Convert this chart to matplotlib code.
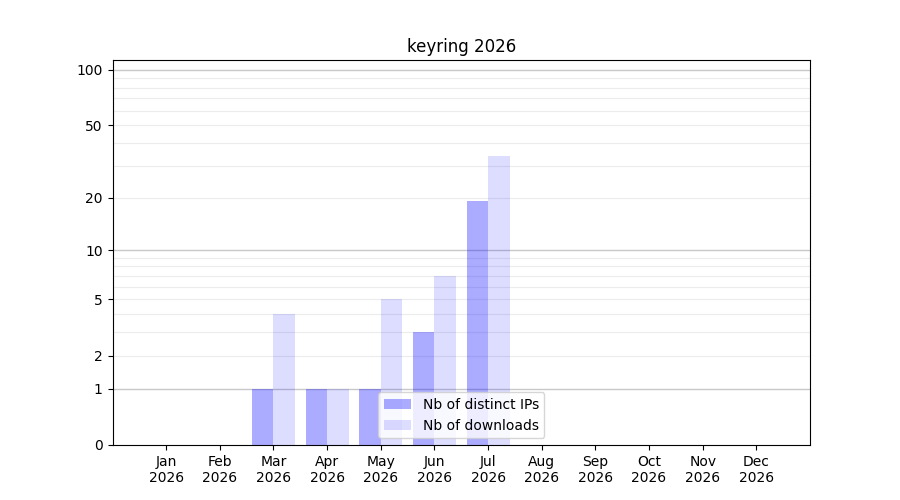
import numpy as np
import matplotlib
matplotlib.use('Agg')
import matplotlib.pyplot as plt
from matplotlib.ticker import FixedLocator, NullFormatter

# data
months = ['Jan', 'Feb', 'Mar', 'Apr', 'May', 'Jun',
          'Jul', 'Aug', 'Sep', 'Oct', 'Nov', 'Dec']
year = 2026
distinct_ips = [0, 0, 1, 1, 1, 3, 19, 0, 0, 0, 0, 0]
downloads = [0, 0, 4, 1, 5, 7, 34, 0, 0, 0, 0, 0]

y_ticks = [0, 1, 2, 5, 10, 20, 50, 100]
major_grid = [1, 10, 100]
minor_grid = [2, 3, 4, 5, 6, 7, 8, 9, 20, 30, 40, 50, 60, 70, 80, 90]


def fwd(v):
    return np.log10(1 + np.clip(v, 0, None))


def inv(v):
    return 10 ** v - 1


fig, ax = plt.subplots(figsize=(9, 5), dpi=100)

x = np.arange(len(months))
width = 0.4
ax.bar(x, distinct_ips, width=-width, align='edge', color='blue', alpha=0.33,
       label='Nb of distinct IPs', zorder=2)
ax.bar(x, downloads, width=width, align='edge', color='blue', alpha=0.135,
       label='Nb of downloads', zorder=2)

ax.set_yscale('function', functions=(fwd, inv))
ax.set_ylim(0, 113)
ax.set_xlim(-1, 12)

ax.yaxis.set_major_locator(FixedLocator(y_ticks))
ax.set_yticklabels([str(t) for t in y_ticks])
ax.yaxis.set_minor_locator(FixedLocator(minor_grid))
ax.yaxis.set_minor_formatter(NullFormatter())
ax.tick_params(axis='y', which='minor', length=0)

for v in major_grid:
    ax.axhline(v, color='#c8c8c8', linewidth=1, zorder=1)
for v in minor_grid:
    ax.axhline(v, color='#ececec', linewidth=0.8, zorder=1)

ax.set_xticks(x)
ax.set_xticklabels([f'{m}\n{year}' for m in months])

ax.set_title(f'keyring {year}')
ax.legend(loc='lower center')

plt.savefig('out.png', dpi=100)
